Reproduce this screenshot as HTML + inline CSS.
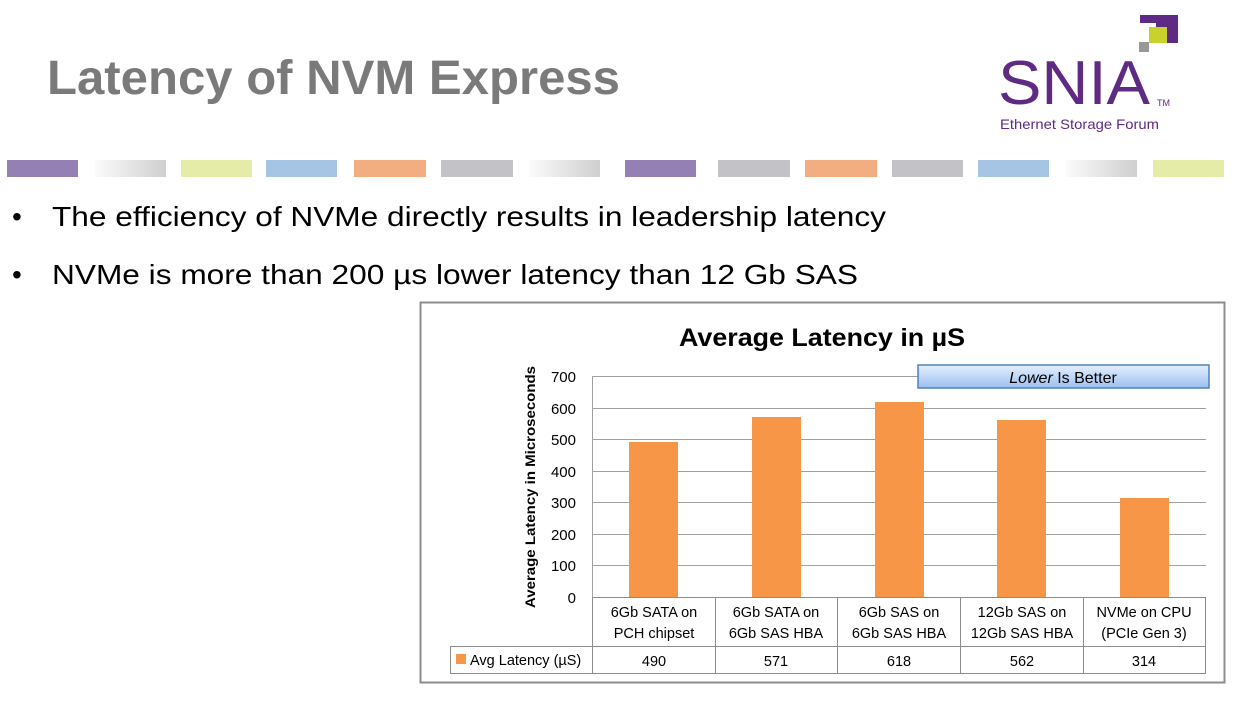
<!DOCTYPE html>
<html><head><meta charset="utf-8"><style>
html,body{margin:0;padding:0;background:#fff;}
svg{display:block;}
text{font-family:"Liberation Sans",sans-serif;}
</style></head><body>
<svg width="1239" height="702" viewBox="0 0 1239 702" xmlns="http://www.w3.org/2000/svg">
<defs>
<linearGradient id="gg" x1="0" x2="1"><stop offset="0" stop-color="#fbfbfb"/><stop offset="1" stop-color="#cfcfd0"/></linearGradient>
<linearGradient id="bl" x1="0" y1="0" x2="0" y2="1"><stop offset="0" stop-color="#e4efff"/><stop offset="1" stop-color="#9cc0f0"/></linearGradient>
</defs>
<text x="47" y="94" font-size="48" font-weight="bold" fill="#7a7a7a" textLength="573" lengthAdjust="spacingAndGlyphs">Latency of NVM Express</text>
<!-- logo -->
<rect x="1156" y="15" width="22" height="28" fill="#5f2a83"/>
<rect x="1140" y="15" width="38" height="8" fill="#5f2a83"/>
<rect x="1149" y="27" width="18" height="16" fill="#c7d32a"/>
<rect x="1139" y="42" width="10" height="10" fill="#999"/>
<text x="998" y="104" font-size="62" fill="#5f2a83" textLength="152" lengthAdjust="spacingAndGlyphs">SNIA</text>
<text x="1157" y="106" font-size="9" fill="#5f2a83">TM</text>
<text x="1000" y="129" font-size="14" fill="#5f2a83" textLength="159" lengthAdjust="spacingAndGlyphs">Ethernet Storage Forum</text>
<!-- strip -->
<g>
<rect x="7" y="160" width="71" height="17" fill="#9580b5"/>
<rect x="95" y="160" width="71" height="17" fill="url(#gg)"/>
<rect x="181" y="160" width="71" height="17" fill="#e5eca8"/>
<rect x="266" y="160" width="71" height="17" fill="#a6c4e4"/>
<rect x="354" y="160" width="72" height="17" fill="#f2ae80"/>
<rect x="441" y="160" width="72" height="17" fill="#c3c3c7"/>
<rect x="529" y="160" width="71" height="17" fill="url(#gg)"/>
<rect x="625" y="160" width="71" height="17" fill="#9580b5"/>
<rect x="718" y="160" width="72" height="17" fill="#c3c3c7"/>
<rect x="805" y="160" width="72" height="17" fill="#f2ae80"/>
<rect x="892" y="160" width="71" height="17" fill="#c3c3c7"/>
<rect x="978" y="160" width="71" height="17" fill="#a6c4e4"/>
<rect x="1066" y="160" width="71" height="17" fill="url(#gg)"/>
<rect x="1153" y="160" width="71" height="17" fill="#e5eca8"/>
</g>
<text x="12" y="226" font-size="28" fill="#000">•</text>
<text x="52" y="226" font-size="28" fill="#000" textLength="834" lengthAdjust="spacingAndGlyphs">The efficiency of NVMe directly results in leadership latency</text>
<text x="12" y="284" font-size="28" fill="#000">•</text>
<text x="52" y="284" font-size="28" fill="#000" textLength="806" lengthAdjust="spacingAndGlyphs">NVMe is more than 200 µs lower latency than 12 Gb SAS</text>
<!-- chart -->
<rect x="420.5" y="302.5" width="804" height="380" fill="#fff" stroke="#8c8c8c" stroke-width="2"/>
<text x="822" y="346" font-size="25" font-weight="bold" text-anchor="middle" fill="#000" textLength="286" lengthAdjust="spacingAndGlyphs">Average Latency in µS</text>
<g stroke="#a0a0a0" stroke-width="1">
<line x1="592" y1="376.5" x2="1206" y2="376.5"/>
<line x1="592" y1="408.5" x2="1206" y2="408.5"/>
<line x1="592" y1="439.5" x2="1206" y2="439.5"/>
<line x1="592" y1="471.5" x2="1206" y2="471.5"/>
<line x1="592" y1="502.5" x2="1206" y2="502.5"/>
<line x1="592" y1="534.5" x2="1206" y2="534.5"/>
<line x1="592" y1="565.5" x2="1206" y2="565.5"/>
<line x1="592.5" y1="376" x2="592.5" y2="597"/>
</g>
<g font-size="15" fill="#000" text-anchor="end">
<text x="576" y="382">700</text><text x="576" y="414">600</text><text x="576" y="445">500</text>
<text x="576" y="477">400</text><text x="576" y="508">300</text><text x="576" y="540">200</text>
<text x="576" y="571">100</text><text x="576" y="603">0</text>
</g>
<text transform="translate(535,487) rotate(-90)" font-size="14" font-weight="bold" text-anchor="middle" fill="#000" textLength="242" lengthAdjust="spacingAndGlyphs">Average Latency in Microseconds</text>
<g fill="#f79646">
<rect x="629" y="442" width="49" height="155"/>
<rect x="752" y="417" width="49" height="180"/>
<rect x="875" y="402" width="49" height="195"/>
<rect x="997" y="420" width="49" height="177"/>
<rect x="1120" y="498" width="49" height="99"/>
</g>
<rect x="918" y="365" width="291" height="23" fill="url(#bl)" stroke="#4f81bd" stroke-width="1.5"/>
<text x="1063" y="383" font-size="16" text-anchor="middle" fill="#000"><tspan font-style="italic">Lower</tspan> Is Better</text>
<!-- table -->
<g stroke="#8c8c8c" stroke-width="1" fill="none">
<line x1="592" y1="597.5" x2="1206" y2="597.5"/>
<line x1="450" y1="646.5" x2="1206" y2="646.5"/>
<line x1="450" y1="673.5" x2="1206" y2="673.5"/>
<line x1="450.5" y1="646" x2="450.5" y2="673"/>
<line x1="592.5" y1="597" x2="592.5" y2="673"/>
<line x1="715.5" y1="597" x2="715.5" y2="673"/>
<line x1="837.5" y1="597" x2="837.5" y2="673"/>
<line x1="960.5" y1="597" x2="960.5" y2="673"/>
<line x1="1083.5" y1="597" x2="1083.5" y2="673"/>
<line x1="1205.5" y1="597" x2="1205.5" y2="673"/>
</g>
<g font-size="14.5" fill="#000" text-anchor="middle">
<text x="654" y="617">6Gb SATA on</text><text x="654" y="638">PCH chipset</text>
<text x="776" y="617">6Gb SATA on</text><text x="776" y="638">6Gb SAS HBA</text>
<text x="899" y="617">6Gb SAS on</text><text x="899" y="638">6Gb SAS HBA</text>
<text x="1022" y="617">12Gb SAS on</text><text x="1022" y="638">12Gb SAS HBA</text>
<text x="1144" y="617">NVMe on CPU</text><text x="1144" y="638">(PCIe Gen 3)</text>
<text x="654" y="666">490</text><text x="776" y="666">571</text><text x="899" y="666">618</text>
<text x="1022" y="666">562</text><text x="1144" y="666">314</text>
</g>
<rect x="456" y="654" width="10" height="10" fill="#f79646"/>
<text x="470" y="665" font-size="14.5" fill="#000">Avg Latency (µS)</text>
</svg>
</body></html>
